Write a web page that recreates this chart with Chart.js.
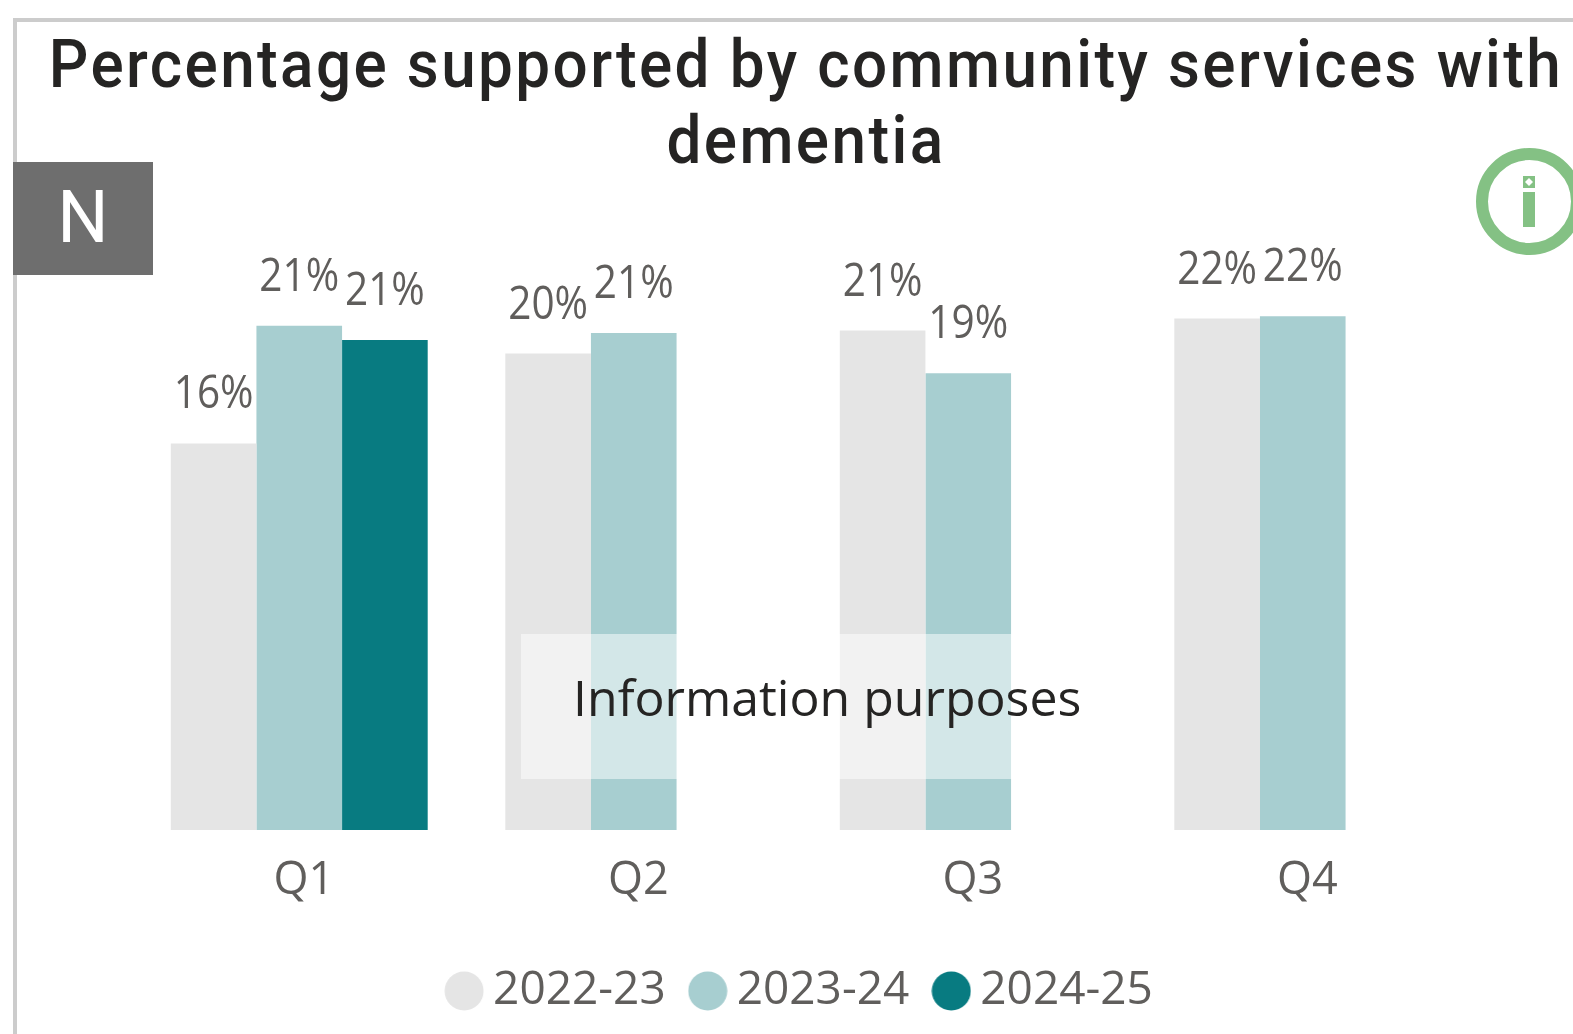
<!DOCTYPE html>
<html>
<head>
<meta charset="utf-8">
<title>Percentage supported by community services with dementia</title>
<script src="https://cdn.jsdelivr.net/npm/chart.js@4"></script>
<style>
  html, body { margin: 0; padding: 0; background: #fff; overflow: hidden; }
  #wrap { position: relative; width: 1573px; height: 1034px; overflow: hidden; }
  #chart { position: absolute; left: 0; top: 0; }
  .frame { position: absolute; left: 13px; top: 18px; width: 1600px; height: 1100px; border: 4px solid #ccc; box-sizing: border-box; }
  .title { position: absolute; left: 0; width: 1612px; text-align: center; color: #252423; white-space: nowrap;
           font: 500 62px Roboto, sans-serif; letter-spacing: 2.4px; transform: scaleY(1.07); }
  .badge { position: absolute; left: 13px; top: 162px; width: 140px; height: 113px; background: #6e6e6e; color: #fff;
           font: 400 72px Roboto, sans-serif; line-height: 112px; text-align: center; }
  .overlay { position: absolute; left: 521px; top: 634px; width: 580px; height: 145px; background: rgba(255,255,255,0.5); }
  .overlay-text { position: absolute; left: 573px; top: 663px; color: #252423; font: 400 50px "Open Sans", sans-serif; white-space: nowrap; }
  .info { position: absolute; left: 1470px; top: 142px; }
</style>
</head>
<body>
<div id="wrap">
  <canvas id="chart" width="1573" height="1034"></canvas>
  <div class="frame"></div>
  <div class="title" style="top:27px">Percentage supported by community services with</div>
  <div class="title" style="top:103px">dementia</div>
  <div class="badge">N</div>
  <div class="overlay"></div>
  <div class="overlay-text">Information purposes</div>
  <svg class="info" width="120" height="120" viewBox="0 0 120 120">
    <circle cx="59.5" cy="59.5" r="47.5" fill="none" stroke="#84c184" stroke-width="12"/>
    <rect x="53" y="50" width="12" height="35" fill="#84c184"/>
    <rect x="53" y="34" width="12" height="12" fill="#84c184"/>
    <path d="M59 36 L63 40 L59 44 L55 40 Z" fill="#fff"/>
  </svg>
</div>
<script>
const QUARTERS = ['Q1', 'Q2', 'Q3', 'Q4'];
const YEARS = ['2022-23', '2023-24', '2024-25'];
const VALUES_2022 = [16.25, 20.03, 21.0, 21.5];
const VALUES_2023 = [21.2, 20.9, 19.2, 21.6];
const VALUES_2024 = [20.6, null, null, null];
const COLOURS = ['#e5e5e5', '#a7ced0', '#087b81'];
const TEXT_GREY = '#605e5c';

// ── Legend markers ───────────────────────────────────────────────────────────

function makeDot(colour) {
  const c = document.createElement('canvas');
  c.width = 40;
  c.height = 40;
  const g = c.getContext('2d');
  g.fillStyle = colour;
  g.beginPath();
  g.arc(20, 20, 19.5, 0, Math.PI * 2);
  g.fill();
  return c;
}

// ── Value labels above the bars ──────────────────────────────────────────────

const valueLabels = {
  id: 'valueLabels',
  afterDatasetsDraw(chart) {
    const ctx = chart.ctx;
    chart.data.datasets.forEach((ds, i) => {
      chart.getDatasetMeta(i).data.forEach((bar, j) => {
        if (ds.data[j] === null) return;
        ctx.save();
        ctx.translate(bar.x, bar.y - 35);
        ctx.scale(0.9, 1);
        ctx.font = '45px "Open Sans", sans-serif';
        ctx.fillStyle = TEXT_GREY;
        ctx.textAlign = 'center';
        ctx.textBaseline = 'alphabetic';
        ctx.fillText(Math.round(ds.data[j]) + '%', 0, 0);
        ctx.restore();
      });
    });
  },
};

// ── Chart ────────────────────────────────────────────────────────────────────

new Chart(document.getElementById('chart'), {
  type: 'bar',
  data: {
    labels: QUARTERS,
    datasets: [VALUES_2022, VALUES_2023, VALUES_2024].map((values, i) => ({
      label: YEARS[i],
      data: values,
      backgroundColor: COLOURS[i],
      pointStyle: makeDot(COLOURS[i]),
      barPercentage: 1,
      categoryPercentage: 0.768,
    })),
  },
  options: {
    responsive: false,
    animation: false,
    layout: { padding: { left: 132, right: 94, top: 164, bottom: 10 } },
    plugins: {
      title: { display: false },
      tooltip: { enabled: false },
      legend: {
        position: 'bottom',
        labels: {
          usePointStyle: true,
          pointStyleWidth: 12,
          padding: 36,
          color: TEXT_GREY,
          font: { family: '"Open Sans", sans-serif', size: 46 },
        },
      },
    },
    scales: {
      x: {
        grid: { display: false },
        border: { display: false },
        ticks: {
          color: TEXT_GREY,
          padding: 16,
          labelOffset: 4.5,
          font: { family: '"Open Sans", sans-serif', size: 45 },
        },
        afterFit(scale) { scale.height = 102; },
      },
      y: {
        position: 'right',
        min: 0,
        max: 28,
        grid: { display: false },
        border: { display: false },
        ticks: { display: false },
        afterFit(scale) { scale.width = 9; },
      },
    },
  },
  plugins: [valueLabels],
});
</script>
</body>
</html>
